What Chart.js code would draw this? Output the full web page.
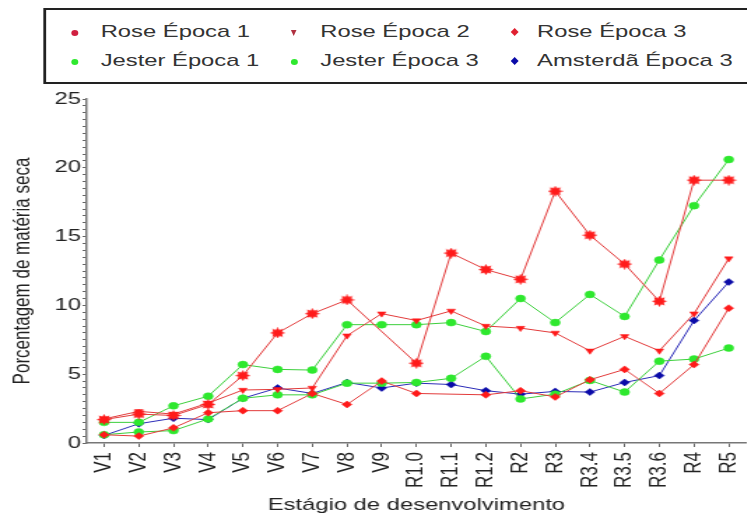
<!DOCTYPE html>
<html>
<head>
    <meta charset="UTF-8">
    <title>Porcentagem de matéria seca</title>
    <script src="https://cdn.jsdelivr.net/npm/chart.js"></script>
    <style>
        body {
            margin: 0;
            background: #fff;
            overflow: hidden;
            font-family: "Liberation Sans", Arial, sans-serif;
        }

        /* the original figure is stretched sideways, so the whole chart is too */
        #wrap {
            position: relative;
            width: 538px;
            height: 516px;
            overflow: hidden;
            transform: scaleX(1.3985);
            transform-origin: 0 0;
        }

        #legend {
            position: absolute;
            left: 31px;
            top: 8px;
            width: 560px;
            height: 72px;
            border: 2px solid #222;
            background: #fff;
            z-index: 2;
        }

        .item {
            position: absolute;
            font-size: 17px;
            color: #333;
            line-height: 20px;
            white-space: nowrap;
        }

        .mark {
            position: absolute;
        }
    </style>
</head>
<body>
    <div id="wrap">
        <div id="legend"></div>
        <canvas id="chart"></canvas>
    </div>

    <script>
        // stages on the x axis
        var stages = ['V1', 'V2', 'V3', 'V4', 'V5', 'V6', 'V7', 'V8', 'V9', 'R1.0', 'R1.1', 'R1.2',
            'R2', 'R3', 'R3.4', 'R3.5', 'R3.6', 'R4', 'R5'];

        // series names
        var seriesNames = ['Rose Época 1', 'Rose Época 2', 'Rose Época 3',
            'Jester Época 1', 'Jester Época 3', 'Amsterdã Época 3'];

        // % dry matter (null = no point drawn)
        var roseE1 = [1.7, 2.1, 2.0, 2.8, 4.9, 8.0, 9.4, 10.4, null, 5.8, 13.8, 12.6, 11.9, 18.3, 15.1, 13.0, 10.3, 19.1, 19.1];
        var roseE2 = [1.75, 2.3, 2.1, 2.9, 3.85, 3.9, 4.0, 7.8, 9.4, 8.9, 9.6, 8.5, 8.35, 8.0, 6.7, 7.75, 6.7, 9.4, 13.4];
        var roseE3 = [0.6, 0.5, 1.1, 2.2, 2.35, 2.35, 3.6, 2.8, 4.5, 3.6, null, 3.5, 3.8, 3.35, 4.6, 5.35, 3.6, 5.7, 9.8];
        var jesterE1 = [1.5, 1.5, 2.7, 3.4, 5.7, 5.35, 5.3, 8.6, 8.6, 8.6, 8.75, 8.1, 10.5, 8.75, 10.8, 9.2, 13.3, 17.25, 20.6];
        var jesterE3 = [0.6, 0.8, 0.9, 1.75, 3.25, 3.5, 3.5, 4.35, 4.35, 4.4, 4.7, 6.3, 3.2, 3.55, 4.55, 3.7, 5.95, 6.1, 6.9];
        var amsterdamE3 = [0.55, 1.4, 1.8, 1.7, 3.25, 4.0, 3.6, 4.4, 4.0, 4.35, 4.25, 3.8, 3.55, 3.75, 3.7, 4.4, 4.9, 8.9, 11.7];

        var yMax = 25;
        var yMajor = 5;
        var yMinor = 0.5;

        var RED = '#ff1a1a';
        var RED_LINE = '#e23a3a';
        var GREEN = '#2ee82e';
        var GREEN_LINE = '#3ccf3c';
        var BLUE = '#0a0aa8';
        var BLUE_LINE = '#2b2bb8';

        // filled asterisk marker for Rose Época 1
        function starMarker(color) {
            var c = document.createElement('canvas');
            c.width = 11;
            c.height = 11;
            var g = c.getContext('2d');
            g.fillStyle = color;
            g.beginPath();
            for (var i = 0; i < 16; i++) {
                var r = i % 2 === 0 ? 5.5 : 3.3;
                var a = Math.PI * i / 8;
                g.lineTo(5.5 + r * Math.cos(a), 5.5 + r * Math.sin(a));
            }
            g.closePath();
            g.fill();
            return c;
        }

        function series(label, data, line, fill, style, rot) {
            return {
                label: label,
                data: data,
                borderColor: line,
                borderWidth: 1,
                backgroundColor: fill,
                pointBackgroundColor: fill,
                pointBorderColor: fill,
                pointBorderWidth: 0.5,
                pointRadius: 3.5,
                pointStyle: style,
                pointRotation: rot || 0,
                spanGaps: true,
                fill: false,
                tension: 0
            };
        }

        var datasets = [
            series(seriesNames[0], roseE1, RED_LINE, RED, starMarker(RED)),
            series(seriesNames[1], roseE2, RED_LINE, RED, 'triangle', 180),
            series(seriesNames[2], roseE3, RED_LINE, RED, 'rectRot'),
            series(seriesNames[3], jesterE1, GREEN_LINE, GREEN, 'circle'),
            series(seriesNames[4], jesterE3, GREEN_LINE, GREEN, 'circle'),
            series(seriesNames[5], amsterdamE3, BLUE_LINE, BLUE, 'rectRot')
        ];

        // legend: 3 columns x 2 rows, positions relative to the box
        var legendMarks = ['dot', 'tri', 'dia', 'dot', 'dot', 'dia'];
        var legendColors = ['#d02040', '#b03040', '#e02030', GREEN, GREEN, BLUE];
        var colMark = [20, 177, 335];
        var colText = [39, 196, 351];
        var rowY = [12, 41];

        var legend = document.getElementById('legend');
        seriesNames.forEach(function (name, i) {
            var col = i % 3, row = Math.floor(i / 3);
            var m = document.createElement('span');
            m.className = 'mark';
            var cy = rowY[row] + 11;
            if (legendMarks[i] === 'dot') {
                m.style.cssText = 'left:' + (colMark[col] - 2.5) + 'px;top:' + (cy - 3) + 'px;width:5px;height:6px;border-radius:50%;background:' + legendColors[i];
            } else if (legendMarks[i] === 'tri') {
                m.style.cssText = 'left:' + (colMark[col] - 2.5) + 'px;top:' + (cy - 3) + 'px;width:0;height:0;border-left:2.5px solid transparent;border-right:2.5px solid transparent;border-top:6px solid ' + legendColors[i];
            } else {
                m.style.cssText = 'left:' + (colMark[col] - 2) + 'px;top:' + (cy - 3) + 'px;width:4px;height:4px;transform:scaleY(1.4) rotate(45deg);background:' + legendColors[i];
            }
            legend.appendChild(m);

            var t = document.createElement('span');
            t.className = 'item';
            t.style.left = colText[col] + 'px';
            t.style.top = rowY[row] + 'px';
            t.textContent = name;
            legend.appendChild(t);
        });

        Chart.defaults.font.family = '"Liberation Sans", Arial, sans-serif';
        Chart.defaults.font.size = 17;
        Chart.defaults.color = '#222';

        var ctx = document.getElementById('chart').getContext('2d');
        var chart = new Chart(ctx, {
            type: 'line',
            data: {
                labels: stages,
                datasets: datasets
            },
            options: {
                responsive: true,
                maintainAspectRatio: false,
                animation: false,
                layout: {
                    padding: { left: 2, top: 99, right: 0, bottom: 0 }
                },
                plugins: {
                    legend: { display: false },
                    tooltip: { enabled: false }
                },
                scales: {
                    x: {
                        offset: true,
                        grid: {
                            drawOnChartArea: false,
                            drawTicks: true,
                            tickLength: 4,
                            color: '#666'
                        },
                        border: { color: '#777', width: 1.5 },
                        ticks: {
                            minRotation: 90,
                            maxRotation: 90,
                            autoSkip: false,
                            padding: 5,
                            color: '#222'
                        },
                        title: {
                            display: true,
                            text: 'Estágio de desenvolvimento',
                            color: '#222',
                            padding: { top: 0, bottom: 0 }
                        },
                        afterFit: function (scale) {
                            scale.height = 73;
                            // let the axis run to the right edge like the original
                            scale.paddingLeft = 0;
                            scale.paddingRight = 0;
                        }
                    },
                    y: {
                        min: 0,
                        max: yMax,
                        grid: {
                            drawOnChartArea: false,
                            drawTicks: true,
                            tickLength: 3,
                            color: '#666'
                        },
                        border: { color: '#777', width: 1.5 },
                        ticks: {
                            stepSize: yMinor,
                            autoSkip: false,
                            padding: 1,
                            color: '#222',
                            callback: function (v) { return v % yMajor === 0 ? v : ''; }
                        },
                        title: {
                            display: true,
                            text: 'Porcentagem de matéria seca',
                            color: '#222',
                            padding: { top: 4, bottom: 0 }
                        },
                        afterFit: function (scale) { scale.width = 60; }
                    }
                }
            }
        });
    </script>
</body>
</html>
